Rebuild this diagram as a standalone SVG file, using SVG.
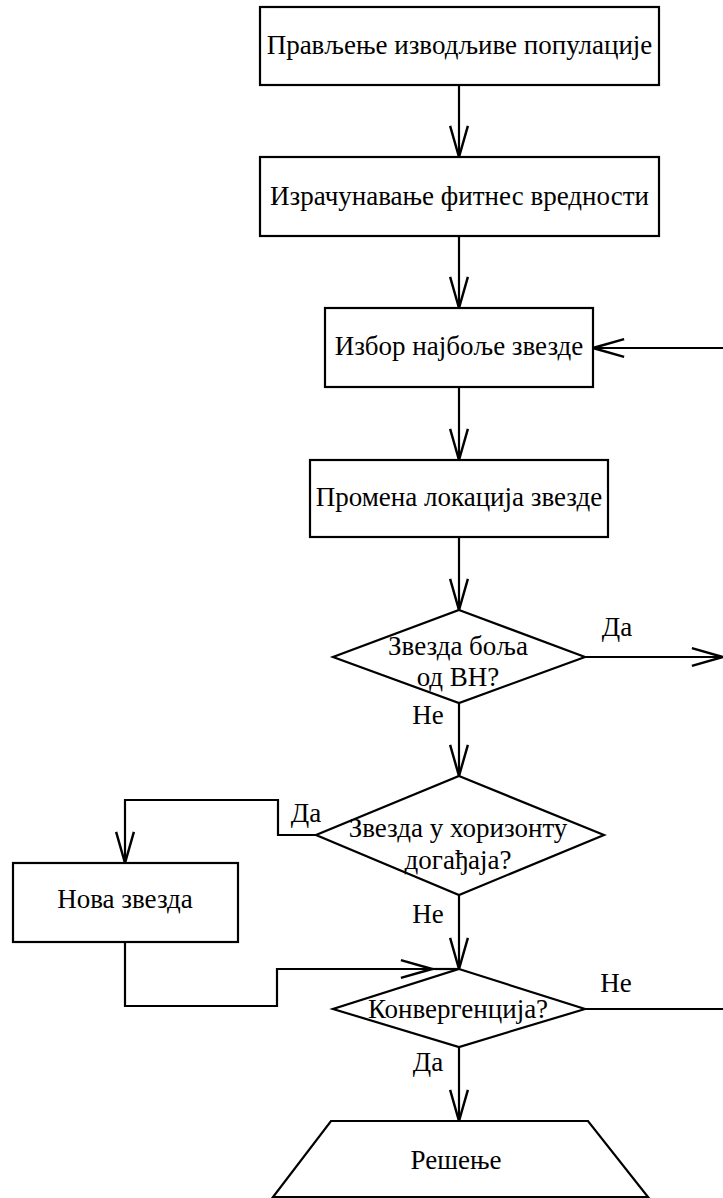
<svg xmlns="http://www.w3.org/2000/svg" width="723" height="1198" viewBox="0 0 723 1198">
<defs>
<marker id="arr" markerUnits="userSpaceOnUse" markerWidth="40" markerHeight="30" viewBox="-32 -12 36 24" refX="0" refY="0" orient="auto">
<path d="M-28,-8 L0,0 L-28,8" fill="none" stroke="#000" stroke-width="2.2"/>
</marker>
<style>
.s{fill:#fff;stroke:#000;stroke-width:2.2}
.c{fill:none;stroke:#000;stroke-width:2.2}
.t{font-family:"Liberation Serif","DejaVu Serif",serif;font-size:27px;fill:#000;text-anchor:middle}
</style>
</defs>
<rect width="723" height="1198" fill="#fff"/>
<g id="connectors">
<path class="c" d="M459,85 V157" marker-end="url(#arr)"/>
<path class="c" d="M459,236 V308" marker-end="url(#arr)"/>
<path class="c" d="M459,387 V460" marker-end="url(#arr)"/>
<path class="c" d="M459,537 V610" marker-end="url(#arr)"/>
<path class="c" d="M459,703 V776" marker-end="url(#arr)"/>
<path class="c" d="M459,895 V969" marker-end="url(#arr)"/>
<path class="c" d="M459,1047 V1121" marker-end="url(#arr)"/>
<path class="c" d="M585,657 H723" marker-end="url(#arr)"/>
<path class="c" d="M316,835 H278 V800 H125 V863" marker-end="url(#arr)"/>
<path class="c" d="M125,942 V1006 H277 V969 H432" marker-end="url(#arr)"/>
<path class="c" d="M432,969 H459"/>
<path class="c" d="M585,1009 H726 V348 H593" marker-end="url(#arr)"/>
<text class="t" x="617" y="636">Да</text>
<text class="t" x="428" y="724">Не</text>
<text class="t" x="306" y="822">Да</text>
<text class="t" x="428" y="923">Не</text>
<text class="t" x="616" y="992">Не</text>
<text class="t" x="428" y="1071">Да</text>
</g>
<g id="n1">
<rect class="s" x="260" y="7" width="399" height="78"/>
<text class="t" x="459.5" y="54">Прављење изводљиве популације</text>
</g>
<g id="n2">
<rect class="s" x="260" y="157" width="399" height="79"/>
<text class="t" x="459.5" y="205">Израчунавање фитнес вредности</text>
</g>
<g id="n3">
<rect class="s" x="325" y="308" width="268" height="79"/>
<text class="t" x="459" y="355">Избор најбоље звезде</text>
</g>
<g id="n4">
<rect class="s" x="310" y="460" width="298" height="77"/>
<text class="t" x="459" y="506">Промена локација звезде</text>
</g>
<g id="d1">
<polygon class="s" points="459,610 585,657 459,703 333,657"/>
<text class="t" x="458" y="655">Звезда боља</text>
<text class="t" x="458" y="686">од ВН?</text>
</g>
<g id="d2">
<polygon class="s" points="459,776 604,835 459,895 316,835"/>
<text class="t" x="458" y="837">Звезда у хоризонту</text>
<text class="t" x="458" y="869">догађаја?</text>
</g>
<g id="n5">
<rect class="s" x="13" y="863" width="225" height="79"/>
<text class="t" x="125" y="908">Нова звезда</text>
</g>
<g id="d3">
<polygon class="s" points="459,969 585,1009 459,1047 333,1009"/>
<text class="t" x="458" y="1018">Конвергенција?</text>
</g>
<g id="n6">
<polygon class="s" points="331,1121 588,1121 648,1197 273,1197"/>
<text class="t" x="456" y="1169">Решење</text>
</g>
</svg>
